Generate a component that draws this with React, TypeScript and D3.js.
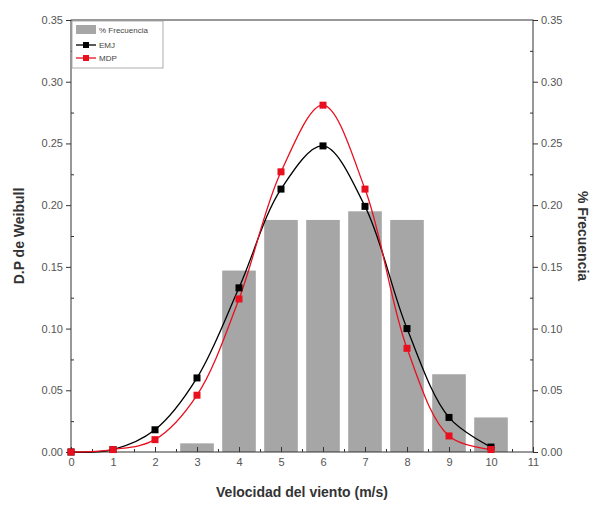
import * as d3 from 'd3';
import { useEffect, useRef } from 'react';

const speeds = [0, 1, 2, 3, 4, 5, 6, 7, 8, 9, 10];
const emj = [0, 0.002, 0.018, 0.06, 0.133, 0.213, 0.248, 0.199, 0.1, 0.028, 0.004];
const mdp = [0, 0.002, 0.01, 0.046, 0.124, 0.227, 0.281, 0.213, 0.084, 0.013, 0.002];

const barSpeeds = [3, 4, 5, 6, 7, 8, 9, 10];
const freq = [0.007, 0.147, 0.188, 0.188, 0.195, 0.188, 0.063, 0.028];

const yTicks = [0, 0.05, 0.1, 0.15, 0.2, 0.25, 0.3, 0.35];
const xTicks = [0, 1, 2, 3, 4, 5, 6, 7, 8, 9, 10, 11];

const WIDTH = 600;
const HEIGHT = 507;

export default function App() {
  const ref = useRef<SVGSVGElement>(null);

  useEffect(() => {
    const svg = d3.select(ref.current);
    svg.selectAll('*').remove();

    const left = 71, right = 533, top = 20, bottom = 452;
    const font = 'Liberation Sans, Arial, sans-serif';

    const x = d3.scaleLinear().domain([0, 11]).range([left, right]);
    const y = d3.scaleLinear().domain([0, 0.35]).range([bottom, top]);

    // bars
    svg.append('g')
      .selectAll('rect')
      .data(barSpeeds.map((s, i) => ({ s, v: freq[i] })))
      .enter()
      .append('rect')
      .attr('x', d => x(d.s - 0.4))
      .attr('width', x(0.8) - x(0))
      .attr('y', d => y(d.v))
      .attr('height', d => y(0) - y(d.v))
      .attr('fill', '#a6a6a6');

    // frame
    svg.append('rect')
      .attr('x', left).attr('y', top)
      .attr('width', right - left).attr('height', bottom - top)
      .attr('fill', 'none')
      .attr('stroke', '#333')
      .attr('stroke-width', 1);

    const axisStyle = (g: any) => {
      g.select('.domain').remove();
      g.selectAll('line').attr('stroke', '#333');
      g.selectAll('text')
        .attr('fill', '#555')
        .style('font-family', font)
        .style('font-size', '11px');
    };

    const minorY = d3.range(0.025, 0.35, 0.05);
    const minorX = d3.range(0.5, 11, 1);

    // left axis
    svg.append('g')
      .attr('transform', `translate(${left},0)`)
      .call(d3.axisLeft(y).tickValues(yTicks).tickFormat(d3.format('.2f')).tickSize(5).tickPadding(3))
      .call(axisStyle);
    svg.append('g')
      .attr('transform', `translate(${left},0)`)
      .call(d3.axisRight(y).tickValues(minorY).tickSize(3).tickFormat(() => ''))
      .call(axisStyle);

    // right axis
    svg.append('g')
      .attr('transform', `translate(${right},0)`)
      .call(d3.axisRight(y).tickValues(yTicks).tickFormat(d3.format('.2f')).tickSize(5).tickPadding(3))
      .call(axisStyle);
    svg.append('g')
      .attr('transform', `translate(${right},0)`)
      .call(d3.axisLeft(y).tickValues(minorY).tickSize(3).tickFormat(() => ''))
      .call(axisStyle);

    // bottom axis
    const bx = svg.append('g')
      .attr('transform', `translate(0,${bottom})`)
      .call(d3.axisBottom(x).tickValues(xTicks).tickFormat(d3.format('d')).tickSize(0).tickPadding(6))
      .call(axisStyle);
    bx.selectAll('.tick').append('line').attr('y2', -5).attr('stroke', '#333');
    svg.append('g')
      .attr('transform', `translate(0,${bottom})`)
      .call(d3.axisTop(x).tickValues(minorX).tickSize(3).tickFormat(() => ''))
      .call(axisStyle);

    // curves
    const series = [
      { name: 'EMJ', values: emj, color: '#000000' },
      { name: 'MDP', values: mdp, color: '#e8101e' },
    ];
    const line = d3.line<number>()
      .x((_, i) => x(speeds[i]))
      .y(d => y(d))
      .curve(d3.curveCatmullRom.alpha(0.5));

    series.forEach(s => {
      svg.append('path')
        .datum(s.values)
        .attr('d', line)
        .attr('fill', 'none')
        .attr('stroke', s.color)
        .attr('stroke-width', 1.3);
    });
    series.forEach(s => {
      svg.append('g')
        .selectAll('rect')
        .data(s.values)
        .enter()
        .append('rect')
        .attr('x', (_, i) => x(speeds[i]) - 3.5)
        .attr('y', d => y(d) - 3.5)
        .attr('width', 7)
        .attr('height', 7)
        .attr('fill', s.color);
    });

    // legend
    const lg = svg.append('g').attr('transform', `translate(${left + 1},${top + 1})`);
    lg.append('rect')
      .attr('width', 91).attr('height', 47)
      .attr('fill', 'white').attr('stroke', '#999').attr('stroke-width', 0.8);
    lg.append('rect').attr('x', 4).attr('y', 4).attr('width', 20).attr('height', 9).attr('fill', '#a6a6a6');
    lg.append('text').attr('x', 27).attr('y', 12).text('% Frecuencia')
      .style('font-family', font).style('font-size', '8px').attr('fill', '#444');
    series.forEach((s, i) => {
      const yy = 24 + i * 13;
      lg.append('line').attr('x1', 4).attr('x2', 24).attr('y1', yy).attr('y2', yy)
        .attr('stroke', s.color).attr('stroke-width', 1.3);
      lg.append('rect').attr('x', 11).attr('y', yy - 3).attr('width', 6).attr('height', 6).attr('fill', s.color);
      lg.append('text').attr('x', 27).attr('y', yy + 3).text(s.name)
        .style('font-family', font).style('font-size', '8px').attr('fill', '#444');
    });

    // axis titles
    const mid = (top + bottom) / 2;
    svg.append('text')
      .attr('transform', `translate(24,${mid}) rotate(-90)`)
      .attr('text-anchor', 'middle')
      .style('font-family', font).style('font-size', '14px').style('font-weight', 'bold')
      .attr('fill', '#333')
      .text('D.P de Weibull');
    svg.append('text')
      .attr('transform', `translate(578,${mid}) rotate(90)`)
      .attr('text-anchor', 'middle')
      .style('font-family', font).style('font-size', '14px').style('font-weight', 'bold')
      .attr('fill', '#333')
      .text('% Frecuencia');
    svg.append('text')
      .attr('x', (left + right) / 2).attr('y', 497)
      .attr('text-anchor', 'middle')
      .style('font-family', font).style('font-size', '14px').style('font-weight', 'bold')
      .attr('fill', '#333')
      .text('Velocidad del viento (m/s)');

    return () => { svg.selectAll('*').remove(); };
  }, []);

  return (
    <svg
      ref={ref}
      width={WIDTH}
      height={HEIGHT}
      style={{ position: 'absolute', left: 0, top: 0, background: 'white' }}
    />
  );
}
